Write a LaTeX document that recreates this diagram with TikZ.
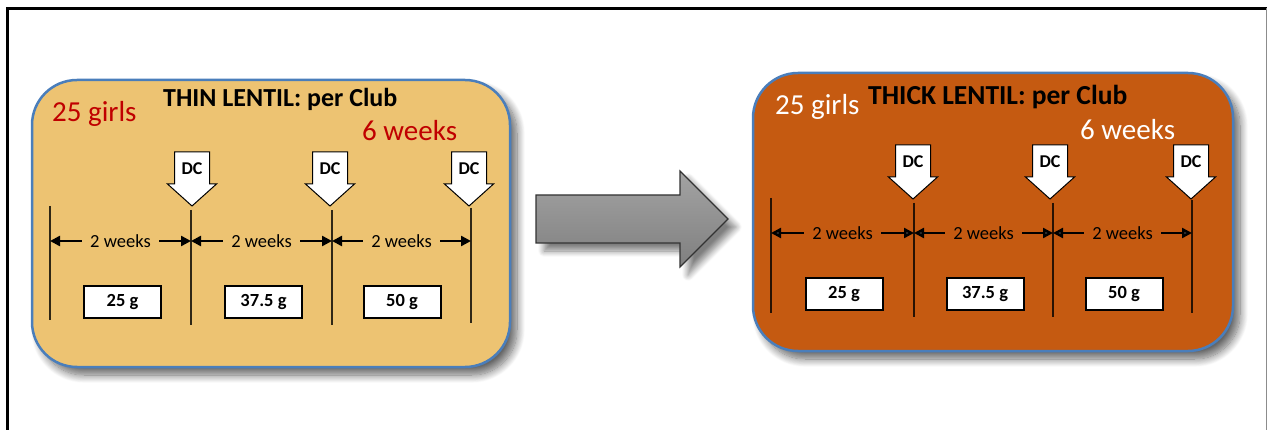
\documentclass[tikz,border=0pt]{standalone}
\usepackage{fontspec}
\setmainfont{Carlito}
\usetikzlibrary{arrows.meta,shadows.blur,calc}

\definecolor{thinfill}{HTML}{EDC372}
\definecolor{thickfill}{HTML}{C55A11}
\definecolor{panelborder}{HTML}{4A7EBB}
\definecolor{darkred}{HTML}{C00000}

\tikzset{
  panel/.style={draw=panelborder, line width=2.5pt, rounded corners=45pt,
    blur shadow={shadow xshift=7pt, shadow yshift=-8pt, shadow blur steps=12,
      shadow blur radius=8pt, shadow opacity=60}},
  headline/.style={font=\bfseries\fontsize{26pt}{30pt}\selectfont, inner sep=0pt, anchor=base west},
  bigword/.style={font=\fontsize{29pt}{34pt}\selectfont, inner sep=0pt, anchor=base west},
  dcshape/.style={draw=black, fill=white, line width=1pt, line join=miter},
  dctext/.style={font=\bfseries\fontsize{18pt}{21pt}\selectfont, inner sep=0pt},
  tick/.style={draw=black, draw opacity=0.8, line width=1.8pt},
  span/.style={font=\fontsize{18.5pt}{22pt}\selectfont, inner xsep=8.5pt, inner ysep=2pt},
  spanarrow/.style={line width=2.4pt, -{Triangle[length=10pt,width=10pt]}},
  dose/.style={draw=black, fill=white, line width=2pt, minimum width=77pt,
    minimum height=32pt, inner sep=0pt, font=\bfseries\fontsize{18.5pt}{22pt}\selectfont},
  shiftarrow/.style={draw=black!80, line width=1.2pt, top color=black!36, bottom color=black!50,
    blur shadow={shadow xshift=8pt, shadow yshift=-8pt, shadow blur steps=10,
      shadow blur radius=6pt, shadow opacity=50}},
}

% block arrow marking a data collection point, with its label node
\newcommand\dcmark[3]{%
  \draw[dcshape] ({#2-17.5},{#3}) -- ({#2+17.5},{#3}) -- ({#2+17.5},{#3+32})
    -- ({#2+24.5},{#3+32}) -- ({#2},{#3+54}) -- ({#2-24.5},{#3+32})
    -- ({#2-17.5},{#3+32}) -- cycle;
  \node[dctext] (#1) at ({#2},{#3+17}) {DC};
}

% vertical divider of the timeline
\newcommand\divider[4]{%
  \coordinate (#1t) at (#2,#3);
  \coordinate (#1b) at (#2,#4);
  \draw[tick] (#1t) -- (#1b);
}

% "2 weeks" span between two dividers, at height #4
\newcommand\twoweeks[4]{%
  \coordinate (#1lvl) at (0,#4);
  \path ($(#2t)!0.5!(#3t)$) coordinate (#1mid);
  \node[span] (#1) at (#1mid |- #1lvl) {2 weeks};
  \draw[spanarrow] (#1.west) -- (#2t |- #1.west);
  \draw[spanarrow] (#1.east) -- (#3t |- #1.east);
}

\begin{document}
\begin{tikzpicture}[x=1pt, y=-1pt]
\useasboundingbox (0,0) rectangle (1268,430);

% frame
\draw[line width=3.8pt] (7.5,430) -- (7.5,8.5) -- (1266.5,8.5);
\draw[black!45, line width=1pt] (1266.5,8.5) -- (1266.5,430);

% ---------------- thin lentil ----------------
\node[panel, fill=thinfill, minimum width=478pt, minimum height=287pt] (thin) at (271,223.5) {};
\node[bigword, text=darkred] (thingirls) at (52,122) {25 girls};
\node[headline] (thintitle) at (163,107) {THIN LENTIL: per Club};
\node[bigword, text=darkred] (thinweeks) at (362,141) {6 weeks};

\dcmark{thindc1}{192}{152}
\dcmark{thindc2}{330}{152}
\dcmark{thindc3}{469}{152}

\divider{a0}{50}{206}{320}
\divider{a1}{191}{210}{325}
\divider{a2}{332}{210}{325}
\divider{a3}{471}{208}{323}

\twoweeks{aw1}{a0}{a1}{241}
\twoweeks{aw2}{a1}{a2}{241}
\twoweeks{aw3}{a2}{a3}{241}

\node[dose] (ad1) at (122.5,302) {25 g};
\node[dose] (ad2) at (263.5,302) {37.5 g};
\node[dose] (ad3) at (402,302) {50 g};

% ---------------- shift arrow ----------------
\draw[shiftarrow] (536,195) -- (680,195) -- (680,171) -- (728,219)
  -- (680,267) -- (680,243) -- (536,243) -- cycle;

% ---------------- thick lentil ----------------
\node[panel, fill=thickfill, minimum width=480pt, minimum height=278pt] (thick) at (993,212) {};
\node[bigword, text=white] (thickgirls) at (775,115) {25 girls};
\node[headline, font=\bfseries\fontsize{27.5pt}{32pt}\selectfont] (thicktitle) at (868,105) {THICK LENTIL: per Club};
\node[bigword, text=white] (thickweeks) at (1080,140) {6 weeks};

\dcmark{thickdc1}{913}{145}
\dcmark{thickdc2}{1050}{145}
\dcmark{thickdc3}{1191}{145}

\divider{b0}{771}{198}{313}
\divider{b1}{914}{203}{317}
\divider{b2}{1053}{203}{317}
\divider{b3}{1192}{200}{313}

\twoweeks{bw1}{b0}{b1}{233}
\twoweeks{bw2}{b1}{b2}{233}
\twoweeks{bw3}{b2}{b3}{233}

\node[dose] (bd1) at (844,294) {25 g};
\node[dose] (bd2) at (985,294) {37.5 g};
\node[dose] (bd3) at (1124,294) {50 g};
\end{tikzpicture}
\end{document}
